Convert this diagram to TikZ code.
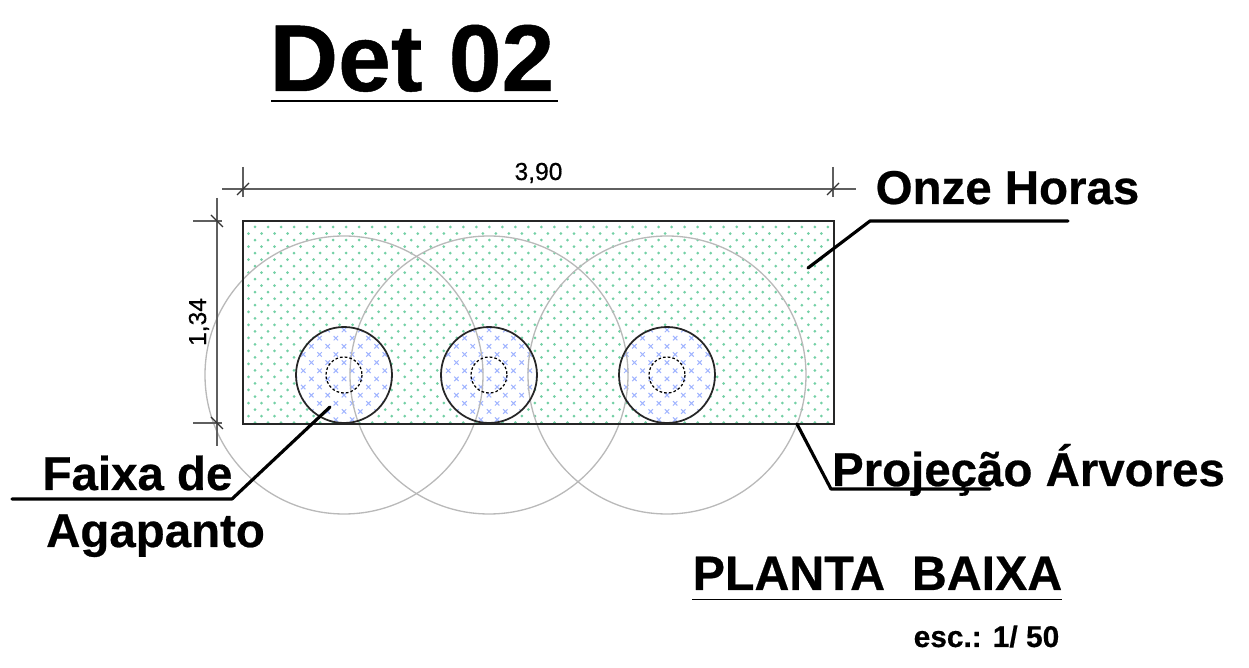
\documentclass[tikz,border=0pt]{standalone}
\usepackage{fontspec}
\setmainfont[BoldFeatures={FakeBold=0.5}]{Liberation Sans}
\newfontfamily\dimfont[FakeBold=0.6]{Liberation Sans}
\definecolor{dotgreen}{RGB}{115,208,165}
\definecolor{crossblue}{RGB}{160,180,255}
\definecolor{dimgray}{RGB}{95,95,95}
\definecolor{crowngray}{RGB}{185,185,185}
\tikzset{
	leader/.style={line width=1.8pt,line cap=round,line join=round},
	dimline/.style={dimgray,line width=0.7pt},
	tick/.style={black!80,line width=0.75pt},
	biglabel/.style={font=\fontsize{27}{30}\selectfont\bfseries,inner sep=0pt,anchor=base},
	dimlabel/.style={font=\fontsize{14}{16}\selectfont\dimfont,inner sep=0pt,anchor=base}
}
\begin{document}
\begin{tikzpicture}[x=0.02cm,y=-0.02cm]
	\useasboundingbox (0,0) rectangle (1249,668);
	\coordinate (R1) at (243,221);
	\coordinate (R2) at (834,424);
	% bed hatch
	\begin{scope}
		\clip (R1) rectangle (R2);
		\foreach \row in {0,...,30} {
			\pgfmathsetmacro{\off}{mod(\row,2)*(-6.5)}
			\foreach \col in {0,...,45} {
				\fill[dotgreen] ({255+\off+13.02*\col},{227+6.52*\row}) circle (1.5);
			}
		}
	\end{scope}
	% planting strips
	\foreach \cx/\name in {344/A,489/B,667/C} {
		\coordinate (T\name) at (\cx,375);
		\fill[white] (T\name) circle (48);
		\begin{scope}
			\clip (T\name) circle (48);
			\foreach \row in {0,...,11} {
				\pgfmathsetmacro{\off}{mod(\row,2)*(-8.15)}
				\foreach \col in {-3,...,3} {
					\draw[crossblue,line width=0.6pt] ({\cx+\off+16.3*\col-2.2},{330+8.15*\row-2.2}) -- ++(4.4,4.4)
						({\cx+\off+16.3*\col-2.2},{330+8.15*\row+2.2}) -- ++(4.4,-4.4);
				}
			}
		\end{scope}
	}
	% tree crowns
	\foreach \name in {A,B,C} {
		\draw[crowngray,line width=0.75pt] (T\name) circle (139);
	}
	\draw[line width=1pt,black!85] (R1) rectangle (R2);
	\foreach \name in {A,B,C} {
		\draw[line width=1pt,black!85] (T\name) circle (48);
		\draw[line width=0.7pt,dash pattern=on 1.5pt off 1.2pt] (T\name) circle (18);
	}
	% dimensions
	\draw[dimline] (222,189) -- (856,189);
	\draw[dimline] (243,167) -- (243,197);
	\draw[dimline] (833,167) -- (833,197);
	\draw[dimline] (217,198) -- (217,446);
	\draw[dimline] (193,221) -- (222,221);
	\draw[dimline] (193,423) -- (222,423);
	\draw[tick] (237,195) -- (249,183);
	\draw[tick] (827,195) -- (839,183);
	\draw[tick] (211,215) -- (223,227);
	\draw[tick] (211,417) -- (223,429);
	\node[dimlabel] (W) at (538.5,180) {3,90};
	\node[dimlabel,rotate=90] (H) at (206,322) {1,34};
	% leaders
	\coordinate (O1) at (808,268);
	\coordinate (O2) at (870,221);
	\coordinate (O3) at (1068,221);
	\coordinate (F1) at (330,407);
	\coordinate (F2) at (232,499);
	\coordinate (F3) at (12,499);
	\coordinate (P1) at (797,424);
	\coordinate (P2) at (831,489);
	\coordinate (P3) at (990,489);
	\draw[leader] (O1) -- (O2) -- (O3);
	\draw[leader] (F1) -- (F2) -- (F3);
	\draw[leader] (P1) -- (P2) -- (P3);
	% labels
	\node[biglabel] (title) at (412,91) {\fontsize{54}{56}\selectfont Det 02};
	\node[biglabel] (onze) at (1007.5,204) {Onze Horas};
	\node[biglabel] (faixa) at (137.5,490) {Faixa de};
	\node[biglabel] (agap) at (155.5,547) {Agapanto};
	\node[biglabel] (proj) at (1028.5,486) {Projeção Árvores};
	\node[biglabel] (planta) at (877.5,590) {\fontsize{27.5}{30}\selectfont PLANTA\ \ BAIXA};
	\node[biglabel] (esc) at (986.5,647) {\fontsize{17}{20}\selectfont esc.: 1/ 50};
	\draw[line width=1pt] (271,101) -- (558,101);
	\draw[line width=0.5pt] (692,599) -- (1062,599);
\end{tikzpicture}
\end{document}
